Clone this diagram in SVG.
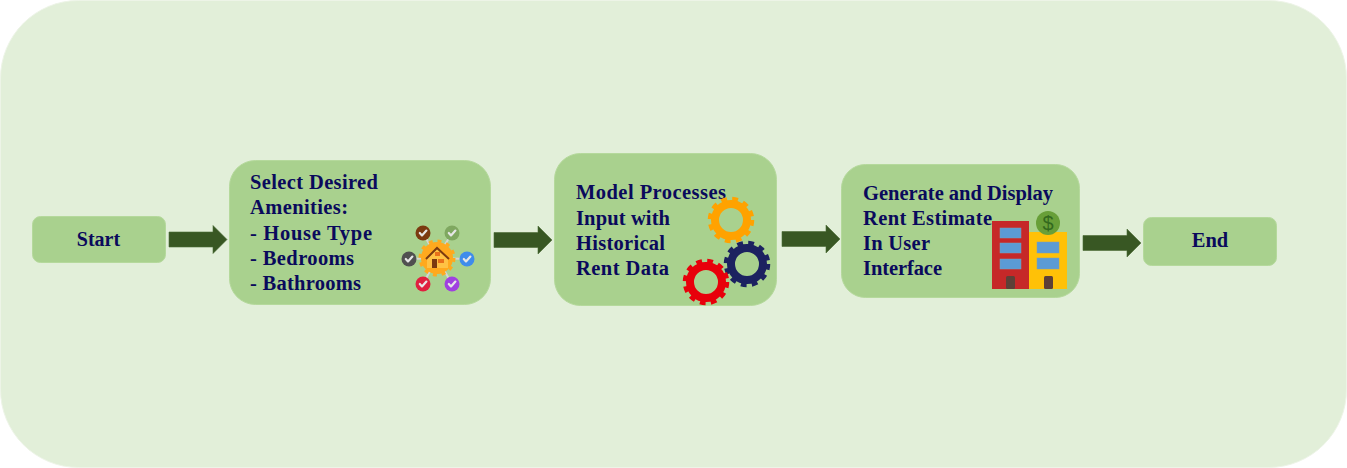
<svg xmlns="http://www.w3.org/2000/svg" xmlns:xlink="http://www.w3.org/1999/xlink" width="1347" height="468" viewBox="0 0 1347 468">
<style>
.box{fill:#A9D18E;stroke:#B5D99C;stroke-width:1}
.t{font-family:"Liberation Serif","Times New Roman",serif;font-weight:700;font-size:20.5px;fill:#0A0A5C}
.s{font-size:20px}
.arrow{fill:#385723;stroke:#4C6B36;stroke-width:.6}
.ring{fill:none;stroke-width:8}
.teeth{fill:none;stroke-width:5.500;stroke-dasharray:5.6 5.2}
.check{fill:none;stroke:#E6E6E6;stroke-width:2.200;stroke-linecap:round;stroke-linejoin:round}
.spoke{stroke:#D5D5D5;stroke-width:2}
.win{fill:#5B9BD5;stroke:#7F9FB5;stroke-width:.5}
.door{fill:#5D4037}
</style>
<defs>
<polygon id="arr" points="0,-7.5 44,-7.5 44,-14 58,0 44,14 44,7.5 0,7.5"/>
<path id="chk" d="M-3.2,0 L-1,2.4 L3.4,-2.4"/>
</defs>
<rect id="background" x="0.5" y="0.5" width="1346" height="467" rx="78" ry="78" fill="#E2EFD9" stroke="#EDF4E7"/>
<g id="connectors" class="arrow">
<use xlink:href="#arr" href="#arr" x="169" y="239.5"/>
<use xlink:href="#arr" href="#arr" x="494" y="240"/>
<use xlink:href="#arr" href="#arr" x="782" y="239"/>
<use xlink:href="#arr" href="#arr" x="1083" y="243"/>
</g>
<g id="start">
<rect class="box" x="32.500" y="216.500" width="133" height="46" rx="8"/>
<text class="t s" x="98.500" y="246" text-anchor="middle">Start</text>
</g>
<g id="select-amenities">
<rect class="box" x="229.500" y="160.500" width="261" height="144" rx="26"/>
<text class="t" x="250" y="189" textLength="128">Select Desired</text>
<text class="t" x="250" y="214" textLength="98">Amenities:</text>
<text class="t" x="250" y="240" textLength="122">- House Type</text>
<text class="t" x="250" y="265" textLength="104">- Bedrooms</text>
<text class="t" x="250" y="290" textLength="111">- Bathrooms</text>
<g id="amenity-icon">
<g class="spoke">
<line x1="437" y1="258" x2="423" y2="233"/><line x1="437" y1="258" x2="452" y2="233"/>
<line x1="437" y1="258" x2="467" y2="259"/><line x1="437" y1="258" x2="452" y2="284"/>
<line x1="437" y1="258" x2="423" y2="284"/><line x1="437" y1="258" x2="409" y2="259"/>
</g>
<circle cx="423" cy="233" r="7.500" fill="#7B3A10"/><use xlink:href="#chk" href="#chk" class="check" x="423" y="233"/>
<circle cx="452" cy="233" r="7.500" fill="#7FA860"/><use xlink:href="#chk" href="#chk" class="check" x="452" y="233"/>
<circle cx="467" cy="259" r="7.500" fill="#3F8CEB"/><use xlink:href="#chk" href="#chk" class="check" x="467" y="259"/>
<circle cx="452" cy="284" r="7.500" fill="#A040E0"/><use xlink:href="#chk" href="#chk" class="check" x="452" y="284"/>
<circle cx="423" cy="284" r="7.500" fill="#E0203F"/><use xlink:href="#chk" href="#chk" class="check" x="423" y="284"/>
<circle cx="409" cy="259" r="7.500" fill="#505050"/><use xlink:href="#chk" href="#chk" class="check" x="409" y="259"/>
<circle cx="437" cy="258" r="16" fill="#FFA91E"/>
<circle cx="437" cy="258" r="17" fill="none" stroke="#FFA91E" stroke-width="3" stroke-dasharray="4 4.9"/>
<polygon points="427,258 437,249 448,258 448,268 427,268" fill="#FFC244"/>
<path d="M426,259 L437,248 L449,259" fill="none" stroke="#7B3A10" stroke-width="2"/>
<rect x="432" y="259" width="5" height="9" fill="#7B3A10"/>
<rect x="438" y="259" width="6" height="4" fill="#E8701A"/>
<rect x="435" y="252" width="5" height="4" fill="#E8701A"/>
</g>
</g>
<g id="model">
<rect class="box" x="554.500" y="153.500" width="222" height="152" rx="26"/>
<text class="t" x="576" y="199" textLength="150">Model Processes</text>
<text class="t" x="576" y="225" textLength="94">Input with</text>
<text class="t" x="576" y="250" textLength="89">Historical</text>
<text class="t" x="576" y="275" textLength="93">Rent Data</text>
<g id="gears">
<g stroke="#FFA200"><circle class="ring" cx="731" cy="220" r="16"/><circle class="teeth" cx="731" cy="220" r="20.500"/></g>
<g stroke="#1C2260"><circle class="ring" cx="747" cy="264" r="16"/><circle class="teeth" cx="747" cy="264" r="20.500"/></g>
<g stroke="#E8000B"><circle class="ring" cx="706" cy="282" r="16"/><circle class="teeth" cx="706" cy="282" r="20.500"/></g>
</g>
</g>
<g id="generate">
<rect class="box" x="841.500" y="164.500" width="238" height="133" rx="24"/>
<text class="t" x="863" y="199.500" textLength="190">Generate and Display</text>
<text class="t" x="863" y="224.500" textLength="129">Rent Estimate</text>
<text class="t" x="863" y="249.500" textLength="67">In User</text>
<text class="t" x="863" y="274.500" textLength="79">Interface</text>
<g id="buildings">
<rect x="992" y="221" width="37" height="68" fill="#C62828"/>
<rect x="1029" y="232" width="38" height="57" fill="#FFC107"/>
<rect class="win" x="1000" y="228" width="21" height="10"/>
<rect class="win" x="1000" y="243" width="21" height="10"/>
<rect class="win" x="1000" y="259" width="21" height="10"/>
<rect class="door" x="1006" y="276" width="9" height="13" rx="1.500"/>
<rect class="win" x="1037" y="242" width="22" height="11"/>
<rect class="win" x="1037" y="258" width="22" height="11"/>
<rect class="door" x="1044" y="276" width="9" height="13" rx="1.500"/>
<circle cx="1048" cy="223" r="12" fill="#689F38"/>
<text x="1048" y="230" text-anchor="middle" font-family="Liberation Sans, sans-serif" font-size="20" fill="#33691E">$</text>
</g>
</g>
<g id="end">
<rect class="box" x="1143.500" y="217.500" width="133" height="48" rx="8"/>
<text class="t" x="1210" y="247" text-anchor="middle">End</text>
</g>
</svg>
